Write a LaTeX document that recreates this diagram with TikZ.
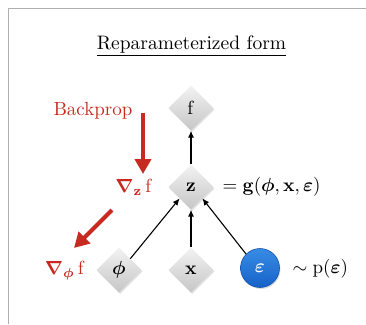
\documentclass[tikz,border=0pt]{standalone}
\usepackage{amsmath}
\usepackage{bm}
\usepackage{graphicx}
\usetikzlibrary{shapes.geometric,arrows.meta,shadows}
\definecolor{bpred}{RGB}{198,42,32}
\definecolor{epstop}{RGB}{55,140,228}
\definecolor{epsbot}{RGB}{22,98,200}
\definecolor{framegray}{RGB}{175,175,175}
\newcommand{\bigtx}[1]{\scalebox{1.9}{#1}}
\tikzset{
  dnode/.style={diamond, aspect=1, minimum size=45pt, inner sep=0pt,
    top color=gray!10, bottom color=gray!45, draw=none,
    drop shadow={shadow xshift=1pt, shadow yshift=-1.5pt, opacity=0.25}},
  enode/.style={circle, minimum size=39pt, inner sep=0pt,
    top color=epstop, bottom color=epsbot, draw=epsbot!85!black, line width=0.6pt,
    drop shadow={shadow xshift=1pt, shadow yshift=-1.5pt, opacity=0.25},
    text=white},
  conn/.style={-{Latex[length=7pt,width=6pt]}, line width=1.1pt, black},
  redarrow/.style={-{Triangle[length=15pt,width=16pt]}, line width=4pt, bpred},
  redtext/.style={text=bpred},
  lbl/.style={text=black}
}
\begin{document}
\begin{tikzpicture}[x=1pt,y=-1pt]
\useasboundingbox (0,0) rectangle (366,324);
% frame
\draw[framegray, line width=1.3pt] (8.5,324) -- (8.5,8.5) -- (366,8.5);
% title
\node[text=black] (title) at (191.5,46) {\scalebox{1.95}{\underline{Reparameterized form}}};
% nodes
\node[dnode] (f) at (191,108) {\bigtx{$\mathrm{f}$}};
\node[dnode] (z) at (191,187) {\bigtx{$\mathbf{z}$}};
\node[dnode] (phi) at (119,270) {\bigtx{$\bm{\phi}$}};
\node[dnode] (x) at (191,270) {\bigtx{$\mathbf{x}$}};
\node[enode] (eps) at (260,268) {\bigtx{$\bm{\varepsilon}$}};
% connectors
\draw[conn] (z.north) -- (f.south);
\draw[conn] (phi.north east) -- (z.south west);
\draw[conn] (x.north) -- (z.south);
\draw[conn] (eps.north west) -- (z.south east);
% labels
\node[lbl, anchor=west] (geq) at (219,187) {\bigtx{$=\mathbf{g}(\bm{\phi},\mathbf{x},\bm{\varepsilon})$}};
\node[lbl, anchor=west] (peps) at (289,269) {\bigtx{$\sim\mathrm{p}(\bm{\varepsilon})$}};
% red
\node[redtext] (bp) at (93,111) {\bigtx{Backprop}};
\node[redtext] (gz) at (134,187) {\bigtx{$\bm{\nabla}_{\mathbf{z}}\,\mathrm{f}$}};
\node[redtext] (gphi) at (65,271) {\bigtx{$\bm{\nabla}_{\bm{\phi}}\,\mathrm{f}$}};
\coordinate (a1s) at (143,113);
\coordinate (a1e) at (143,174);
\coordinate (a2s) at (112,210);
\coordinate (a2e) at (74,248);
\draw[redarrow] (a1s) -- (a1e);
\draw[redarrow] (a2s) -- (a2e);
\end{tikzpicture}
\end{document}
